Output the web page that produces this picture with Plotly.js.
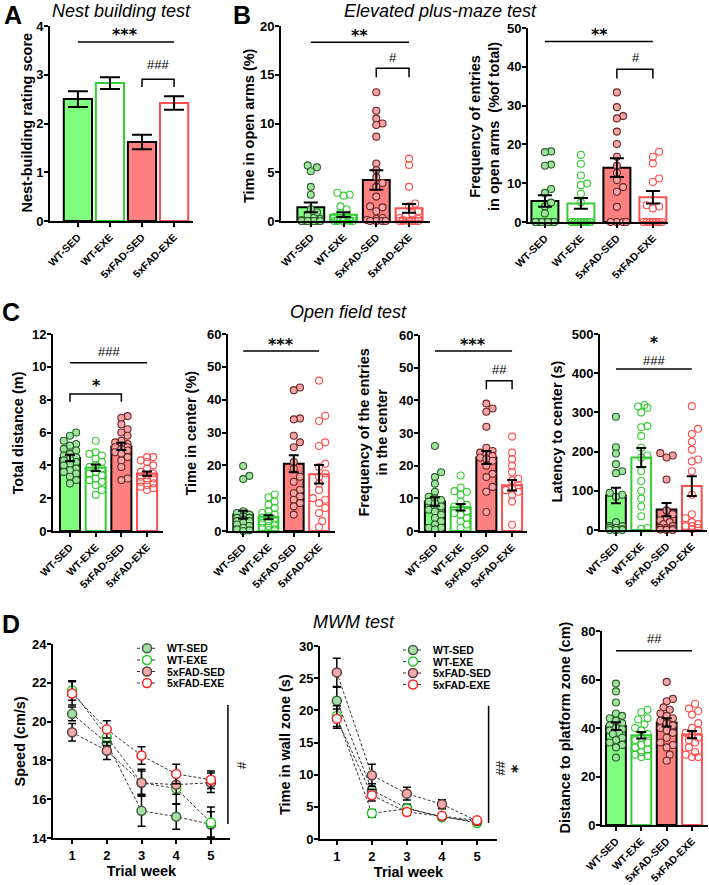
<!DOCTYPE html>
<html><head><meta charset="utf-8">
<script src="https://cdn.plot.ly/plotly-3.0.1.min.js"></script>
<style>html,body{margin:0;padding:0;background:#fff}#chart{width:709px;height:885px}</style>
</head><body><div id="chart"></div>
<script>
// ---------------- DATA ----------------
const groups = ['WT-SED','WT-EXE','5xFAD-SED','5xFAD-EXE'];
const weeks = [1,2,3,4,5];

// A: nest building
const nestMean = [2.50, 2.83, 1.62, 2.42];
const nestSem  = [0.16, 0.12, 0.15, 0.14];

// B: elevated plus maze - time in open arms (%)
const openTimeMean = [1.4, 0.65, 4.2, 1.3];
const openTimeSem  = [0.5, 0.25, 1.0, 0.45];
const openTime_WTSED  = [5.7,5.5,5.1,3.5,2.7,1.2,0.9,0.6,0.3,0.2,0.1,0,0,0,0,0,0,0,0,0];
const openTime_WTEXE  = [2.9,2.7,2.6,1.5,1.2,0.8,0.5,0.4,0.3,0.2,0.1,0.1,0,0,0,0,0,0];
const openTime_FADSED = [13.2,11.3,10.5,10.0,9.85,8.65,5.9,5.2,4.5,3.9,3.5,2.5,1.5,1.4,1.0,0.3,0.2,0.1,0,0,0,0];
const openTime_FADEXE = [6.4,5.75,3.5,1.8,1.5,1.0,0.8,0.5,0.3,0.2,0.1,0,0,0,0,0,0,0];

// B: frequency of entries in open arms (% of total)
const openEntryMean = [5.4, 4.8, 14.0, 6.4];
const openEntrySem  = [1.5, 1.4, 2.4, 1.6];
const openEntry_WTSED  = [18.2,18.0,14.8,14.5,8.5,7.5,5.0,4.0,2.2,0,0,0,0,0,0,0,0,0,0,0];
const openEntry_WTEXE  = [17.3,15.0,12.0,9.9,9.5,7.3,5.0,0,0,0,0,0,0,0,0,0,0,0];
const openEntry_FADSED = [33.4,29.6,27.3,26.7,23.3,20.1,16.8,14.5,12.7,10.8,9.0,7.8,3.9,0,0,0,0];
const openEntry_FADEXE = [18.1,16.8,15.1,11.2,10.3,4.3,4.0,3.5,0,0,0,0,0,0,0,0];

// C: open field - total distance (m)
const distMean = [4.45, 3.85, 5.15, 3.5];
const distSem  = [0.2, 0.2, 0.22, 0.13];
const dist_WTSED  = [6.0,5.8,5.5,5.3,5.2,5.0,4.9,4.7,4.6,4.5,4.4,4.3,4.2,4.1,4.0,3.8,3.7,3.6,3.5,3.3,3.1,2.9];
const dist_WTEXE  = [5.5,4.8,4.7,4.6,4.4,4.2,4.0,3.9,3.8,3.6,3.5,3.4,3.2,3.1,3.0,2.8,2.5,2.2];
const dist_FADSED = [7.0,6.9,6.5,6.2,6.0,5.8,5.5,5.4,5.3,5.2,5.1,5.1,5.0,4.9,4.8,4.7,4.5,4.3,3.9,3.2,3.1];
const dist_FADEXE = [4.5,4.5,4.3,4.2,4.0,3.8,3.6,3.5,3.4,3.3,3.2,3.1,3.0,2.9,2.8,2.7,2.6,2.5];

// C: time in center (%)
const centerTimeMean = [5.0, 4.2, 20.5, 17.3];
const centerTimeSem  = [1.2, 0.6, 2.6, 2.8];
const centerTime_WTSED  = [19.8,16.8,15.8,6.0,5.5,5.0,4.5,4.0,4.0,3.5,3.0,3.0,2.5,2.0,1.5,1.0,0.5,0.2,0];
const centerTime_WTEXE  = [11.1,10.3,9.0,8.0,7.0,6.0,5.5,5.0,4.5,4.0,3.5,3.0,2.5,2.0,1.5,1.0,0.5,0.3];
const centerTime_FADSED = [43.7,42.9,34.3,34.0,29.0,27.0,25.5,21.0,19.0,16.5,15.0,12.5,11.5,10.5,9.5,8.5,7.5,5.0];
const centerTime_FADEXE = [45.8,35.1,33.5,27.0,25.9,20.5,19.5,17.5,16.5,14.5,12.5,10.0,9.5,8.5,7.0,5.5,3.0,1.2];

// C: frequency of entries in the center
const centerFreqMean = [9.0, 7.3, 22.5, 14.0];
const centerFreqSem  = [1.3, 1.0, 2.0, 1.6];
const centerFreq_WTSED  = [26,18,16.5,14.5,12,10.5,10,9.5,9,8.5,7.5,6.5,6,5,4,3,2,1,1,0.5];
const centerFreq_WTEXE  = [17,13.3,12.2,12,11,9,8,7.5,7,6,5.5,5,4,3,2,1];
const centerFreq_FADSED = [39,37.5,36.5,31.9,25.5,24.5,24,23.5,23,22.5,22,21.5,20,17.5,16.5,13.5,12,5.8];
const centerFreq_FADEXE = [28.9,24,22,20,18,16,15.5,14,13,12.5,12,11,9,1.9];

// C: latency to center (s)
const latencyMean = [88, 185, 52, 112];
const latencySem  = [20, 24, 17, 25];
const latency_WTSED  = [289,211,195,168,150,145,95,90,85,20,10,10,5,5,2,0,0,0,0];
const latency_WTEXE  = [319,315,312,300,265,262,240,210,190,185,150,125,100,80,60,35,5,3];
const latency_FADSED = [196,190,185,129,50,40,30,25,20,15,10,5,5,3,2,1,0,0];
const latency_FADEXE = [316,258,245,225,205,180,175,150,90,40,30,20,15,10,10,5,2];

// D: MWM speed (cm/s)
const speed_WTSED  = [20.4, 18.9, 15.4, 15.1, 14.7];
const speed_WTEXE  = [21.6, 19.2, 16.85, 16.55, 14.8];
const speed_FADSED = [19.45, 18.5, 16.85, 16.75, 16.85];
const speed_FADEXE = [21.45, 19.6, 18.25, 17.3, 17.0];
const speedSem_WTSED  = [0.35, 0.4, 0.8, 0.65, 0.65];
const speedSem_WTEXE  = [0.5, 0.45, 0.7, 0.8, 0.8];
const speedSem_FADSED = [0.45, 0.45, 0.6, 0.5, 0.5];
const speedSem_FADEXE = [0.6, 0.45, 0.45, 0.5, 0.45];

// D: time in wall zone (s)
const wall_WTSED  = [21.5, 7.6, 4.8, 3.4, 2.7];
const wall_WTEXE  = [19.1, 4.0, 4.7, 3.5, 2.5];
const wall_FADSED = [25.9, 9.9, 7.05, 5.4, 2.8];
const wall_FADEXE = [18.7, 6.8, 4.2, 3.6, 2.9];
const wallSem_WTSED  = [2.1, 1.0, 0.6, 0.4, 0.3];
const wallSem_WTEXE  = [1.6, 0.6, 0.5, 0.4, 0.3];
const wallSem_FADSED = [2.2, 1.7, 1.0, 0.7, 0.3];
const wallSem_FADEXE = [1.5, 0.9, 0.5, 0.4, 0.3];

// D: distance to platform zone (cm)
const platMean = [40.8, 37.0, 42.3, 37.3];
const platSem  = [1.6, 1.3, 1.7, 1.5];
const plat_WTSED  = [58.3,55.1,50.5,46,45,44,43,42,41,40,39.5,39,38,37.5,36,35,34,33,32,27.8];
const plat_WTEXE  = [47.5,46.5,44,43.5,41.5,40,39,37.5,36,35,34,33,32,31,30,29,28.5,28];
const plat_FADSED = [59,52,51,48.5,47.5,46,45,44,43,42,41,40,39,38,36,34,33,32,29,26.5];
const plat_FADEXE = [50,48,47,45.5,42,40,39,38,37,36,35,34,32,30,29,28,28];

// ---------------- STYLE / LAYOUT ----------------
const W = 709, H = 885;
const FONT = '"Liberation Sans", Arial, sans-serif';
const SYM = '"DejaVu Sans", sans-serif';
const barFill = ['#80ff80','#ffffff','#ff8080','#ffffff'];
const barLine = ['#000000','#33cc33','#000000','#ff4d4d'];
const ptFill  = ['#9ee49e','rgba(255,255,255,0)','#f4a4a4','rgba(255,255,255,0)'];
const ptLine  = ['#2a5e2a','#33cc33','#6a2626','#ff4d4d'];
const lnFill  = ['#a6dca6','#ffffff','#f0aaaa','#ffffff'];
const lnLine  = ['#3d5e3d','#22cc22','#5e3b3b','#ff2020'];

// tx/ty: centre of the (rotated) y-axis title in pixels
const barPanels = [
  {n:1,  mean:nestMean, sem:nestSem, pts:null, x:[50,193], y:[26,221], xr:[-0.87,3.59], yr:[0,4], dt:1, bw:0.88, cap:10,
   title:'Nest-building rating score', tx:26.5, ty:123},
  {n:2,  mean:openTimeMean, sem:openTimeSem, pts:[openTime_WTSED,openTime_WTEXE,openTime_FADSED,openTime_FADEXE],
   x:[281,430], y:[26,221], xr:[-0.91,3.64], yr:[0,20], dt:5, bw:0.82, cap:7, title:'Time in open arms (%)', tx:249, ty:126},
  {n:3,  mean:openEntryMean, sem:openEntrySem, pts:[openEntry_WTSED,openEntry_WTEXE,openEntry_FADSED,openEntry_FADEXE],
   x:[528,668], y:[28,222], xr:[-0.47,3.42], yr:[0,50], dt:10, bw:0.75, cap:7, title:'Frequency of entries<br>in open arms  (%of total)', tx:484, ty:127},
  {n:4,  mean:distMean, sem:distSem, pts:[dist_WTSED,dist_WTEXE,dist_FADSED,dist_FADEXE],
   x:[53,163], y:[334,531], xr:[-0.66,3.62], yr:[0,12], dt:2, bw:0.78, cap:5, title:'Total distance (m)', tx:17.5, ty:433},
  {n:5,  mean:centerTimeMean, sem:centerTimeSem, pts:[centerTime_WTSED,centerTime_WTEXE,centerTime_FADSED,centerTime_FADEXE],
   x:[228,335], y:[334,531], xr:[-0.6,3.63], yr:[0,60], dt:10, bw:0.78, cap:5, title:'Time in center (%)', tx:190.5, ty:433},
  {n:6,  mean:centerFreqMean, sem:centerFreqSem, pts:[centerFreq_WTSED,centerFreq_WTEXE,centerFreq_FADSED,centerFreq_FADEXE],
   x:[420,527], y:[335,531], xr:[-0.58,3.58], yr:[0,60], dt:10, bw:0.78, cap:5, title:'Frequency of the entries<br>in the center', tx:372.5, ty:433},
  {n:7,  mean:latencyMean, sem:latencySem, pts:[latency_WTSED,latency_WTEXE,latency_FADSED,latency_FADEXE],
   x:[600,707], y:[334,530], xr:[-0.63,3.6], yr:[0,500], dt:100, bw:0.78, cap:5, title:'Latency to center (s)', tx:556.5, ty:432},
  {n:10, mean:platMean, sem:platSem, pts:[plat_WTSED,plat_WTEXE,plat_FADSED,plat_FADEXE],
   x:[602,708], y:[631,825], xr:[-0.55,3.63], yr:[0,80], dt:20, bw:0.78, cap:5, title:'Distance to platform zone (cm)', tx:564.5, ty:728}
];
const linePanels = [
  {n:8, series:[speed_WTSED,speed_WTEXE,speed_FADSED,speed_FADEXE], sems:[speedSem_WTSED,speedSem_WTEXE,speedSem_FADSED,speedSem_FADEXE],
   x:[53,230], y:[644,838], xr:[0.45,5.55], yr:[14,24], dt:2, title:'Speed (cm/s)', tx:19.5, ty:742},
  {n:9, series:[wall_WTSED,wall_WTEXE,wall_FADSED,wall_FADEXE], sems:[wallSem_WTSED,wallSem_WTEXE,wallSem_FADSED,wallSem_FADEXE],
   x:[320,497], y:[646,839], xr:[0.52,5.57], yr:[0,30], dt:5, title:'Time in wall zone (s)', tx:285, ty:745}
];

const sfx = n => n === 1 ? '' : String(n);
const tickFont = {family:FONT, size:13, weight:'bold', color:'#000'};
const titleFont = {family:FONT, size:14.5, weight:'bold', color:'#000'};
const catFont = {family:FONT, size:10.5, weight:'bold', color:'#000'};

function axisBase(){
  return {showline:true, linecolor:'#000', linewidth:2, ticks:'outside', ticklen:4, tickwidth:2, tickcolor:'#000',
          showgrid:false, zeroline:false, fixedrange:true, tickfont:tickFont, type:'linear'};
}

// beeswarm-style horizontal spread (GraphPad-like scatter)
function swarm(vals, center, pxX, pxY, diam, maxOff){
  const order = vals.map((v,i)=>i).sort((a,b)=>vals[a]-vals[b]);
  const placed = [], xs = new Array(vals.length);
  const step = diam*0.5;
  for (const i of order){
    const yp = vals[i]*pxY;
    let best = 0, bestOv = Infinity;
    for (let k=0; k<60; k++){
      const off = k===0 ? 0 : (k%2 ? 1 : -1)*Math.ceil(k/2)*step;
      if (Math.abs(off) > maxOff) break;
      let ov = 0;
      for (const p of placed){
        const d = Math.hypot(p.xp-off, p.yp-yp);
        if (d < diam) ov += diam - d;
      }
      if (ov === 0){ best = off; bestOv = 0; break; }
      if (ov < bestOv){ bestOv = ov; best = off; }
    }
    placed.push({xp:best, yp});
    xs[i] = center + best/pxX;
  }
  return xs;
}

const traces = [];
const layout = {
  width:W, height:H, margin:{l:0,r:0,t:0,b:0}, paper_bgcolor:'#fff', plot_bgcolor:'rgba(0,0,0,0)',
  showlegend:false, font:{family:FONT, color:'#000'}, annotations:[], shapes:[]
};

function txt(text, xp, yp, o){
  o = o || {};
  return Object.assign({text, x:xp/W, y:1-yp/H, xref:'paper', yref:'paper', showarrow:false,
    xanchor:'center', yanchor:'middle', font:{family:FONT, size:13, color:'#000'}}, o);
}

barPanels.forEach(p=>{
  const s = sfx(p.n);
  const xa = 'x'+s, ya = 'y'+s;
  layout['xaxis'+s] = Object.assign(axisBase(), {domain:[p.x[0]/W, p.x[1]/W], range:p.xr, anchor:ya,
     tickvals:[0,1,2,3], ticktext:groups, tickangle:-45, tickfont:catFont});
  layout['yaxis'+s] = Object.assign(axisBase(), {domain:[1-p.y[1]/H, 1-p.y[0]/H], range:p.yr, anchor:xa,
     tick0:0, dtick:p.dt, ticklabelstandoff:-2});
  layout.annotations.push(txt(p.title, p.tx, p.ty, {textangle:-90, font:titleFont}));
  traces.push({type:'bar', x:[0,1,2,3], y:p.mean, width:p.bw, xaxis:xa, yaxis:ya, hoverinfo:'skip',
     marker:{color:barFill, line:{color:barLine, width:2}}});
  if (p.pts){
    const pxX = (p.x[1]-p.x[0])/(p.xr[1]-p.xr[0]);
    const pxY = (p.y[1]-p.y[0])/(p.yr[1]-p.yr[0]);
    p.pts.forEach((vals,g)=>{
      traces.push({type:'scatter', mode:'markers', x:swarm(vals, g, pxX, pxY, 6.2, p.bw*pxX/2-3), y:vals,
        xaxis:xa, yaxis:ya, cliponaxis:false, hoverinfo:'skip',
        marker:{size:7, color:ptFill[g], line:{color:ptLine[g], width:1.1}}});
    });
  }
  traces.push({type:'scatter', mode:'markers', x:[0,1,2,3], y:p.mean, xaxis:xa, yaxis:ya, hoverinfo:'skip',
     marker:{size:1, opacity:0}, cliponaxis:false,
     error_y:{type:'data', array:p.sem, visible:true, color:'#000', thickness:2, width:p.cap}});
});

linePanels.forEach(p=>{
  const s = sfx(p.n);
  const xa = 'x'+s, ya = 'y'+s;
  layout['xaxis'+s] = Object.assign(axisBase(), {domain:[p.x[0]/W, p.x[1]/W], range:p.xr, anchor:ya,
     tickvals:weeks, title:{text:'Trial week', font:titleFont, standoff:4}});
  layout['yaxis'+s] = Object.assign(axisBase(), {domain:[1-p.y[1]/H, 1-p.y[0]/H], range:p.yr, anchor:xa,
     tick0:p.yr[0], dtick:p.dt, ticklabelstandoff:-2});
  layout.annotations.push(txt(p.title, p.tx, p.ty, {textangle:-90, font:titleFont}));
  p.series.forEach((ys,g)=>{
    traces.push({type:'scatter', mode:'lines+markers', x:weeks, y:ys, xaxis:xa, yaxis:ya, cliponaxis:false,
      hoverinfo:'skip', line:{color:'#333', width:1, dash:'3px,2px'},
      marker:{size:9, color:lnFill[g], line:{color:lnLine[g], width:1.5}},
      error_y:{type:'data', array:p.sems[g], visible:true, color:'#000', thickness:1.5, width:4}});
  });
});

// ---- annotations ----
const starF = {family:SYM, size:16, weight:'bold', color:'#000'};
const hashF = {family:FONT, size:13, color:'#000'};
const headF = {family:FONT, size:18, style:'italic', color:'#000'};
const letF  = {family:FONT, size:25, weight:'bold', color:'#000'};
const letO  = {font:letF, yanchor:'top', borderpad:0};
const starSpan = s => '<span style="font-family:DejaVu Sans;font-weight:bold;font-size:16px">' + s + '</span>';

layout.annotations.push(
  txt('A', 12.5, 0, letO), txt('B', 242, 0, letO),
  txt('C', 11, 297, letO), txt('D', 11, 609, letO),
  txt('Nest building test', 121, 11, {font:headF}),
  txt('Elevated plus-maze test', 440, 11, {font:headF}),
  txt('Open field test', 348, 312, {font:headF}),
  txt('MWM test', 354, 622, {font:headF}),
  // significance marks
  txt('***', 125, 35, {font:starF}), txt('###', 158, 64, {font:hashF}),
  txt('**', 359, 35.5, {font:starF}), txt('#', 392.5, 57.5, {font:hashF}),
  txt('**', 599, 34.5, {font:starF}), txt('#', 635.5, 57.5, {font:hashF}),
  txt('###', 108.5, 351.5, {font:hashF}), txt('*', 96, 386, {font:starF}),
  txt('***', 281, 344.5, {font:starF}),
  txt('***', 473, 344.5, {font:starF}), txt('##', 499, 369, {font:hashF}),
  txt(starSpan('*') + '<br>###', 654, 351, {font:hashF}),
  txt('##', 654, 638.5, {font:hashF}),
  txt('#', 241, 765, {font:hashF, textangle:-90}),
  txt('##', 500, 768.5, {font:hashF, textangle:-90}),
  txt('*', 517, 769, {font:starF, textangle:-90})
);

// comparison lines / brackets in data coordinates
function hline(n, x0, x1, y){ const s=sfx(n); return {type:'line', xref:'x'+s, yref:'y'+s, x0, x1, y0:y, y1:y, line:{color:'#000', width:1.5}}; }
function bracket(n, x0, x1, top, bot){ const s=sfx(n); return {type:'path', xref:'x'+s, yref:'y'+s,
  path:`M ${x0},${bot} L ${x0},${top} L ${x1},${top} L ${x1},${bot}`, line:{color:'#000', width:1.5}}; }
function vline(n, x, y0, y1){ const s=sfx(n); return {type:'line', xref:'x'+s, yref:'y'+s, x0:x, x1:x, y0, y1, line:{color:'#000', width:1.5}}; }
layout.shapes.push(
  hline(1,0,3,3.67), bracket(1,2,3,2.91,2.75),
  hline(2,0,3,18.33), bracket(2,2,3,15.66,14.74),
  hline(3,0,3,46.5), bracket(3,2,3,39.4,37.0),
  hline(4,0,3,10.25), bracket(4,0,2,8.34,7.87),
  hline(5,0,3,54.8),
  hline(6,0,3,55.1), bracket(6,2,3,46.0,43.4),
  hline(7,0,3,411),
  hline(10,0,3,71.9),
  vline(8,5.49,14.72,20.86),
  vline(9,5.33,2.5,20.7)
);

// manual legends for the MWM line charts
function legend(mx, rows, tx){
  rows.forEach((yp,g)=>{
    layout.shapes.push({type:'line', xref:'paper', yref:'paper', x0:(mx-10)/W, x1:(mx+10)/W, y0:1-yp/H, y1:1-yp/H,
      line:{color:'#333', width:1, dash:'3px,2px'}});
    layout.shapes.push({type:'circle', xref:'paper', yref:'paper', xsizemode:'pixel', ysizemode:'pixel',
      xanchor:mx/W, yanchor:1-yp/H, x0:-4.5, x1:4.5, y0:-4.5, y1:4.5,
      fillcolor:lnFill[g], line:{color:lnLine[g], width:1.5}});
    layout.annotations.push(txt(groups[g], tx, yp, {xanchor:'left', font:{family:FONT, size:10.5, weight:'bold', color:'#000'}}));
  });
}
legend(147, [648.3, 660, 671.5, 683], 165);
legend(413, [650, 661.5, 673, 684.5], 431);

Plotly.newPlot('chart', traces, layout, {displayModeBar:false, staticPlot:true});
</script>
</body></html>
